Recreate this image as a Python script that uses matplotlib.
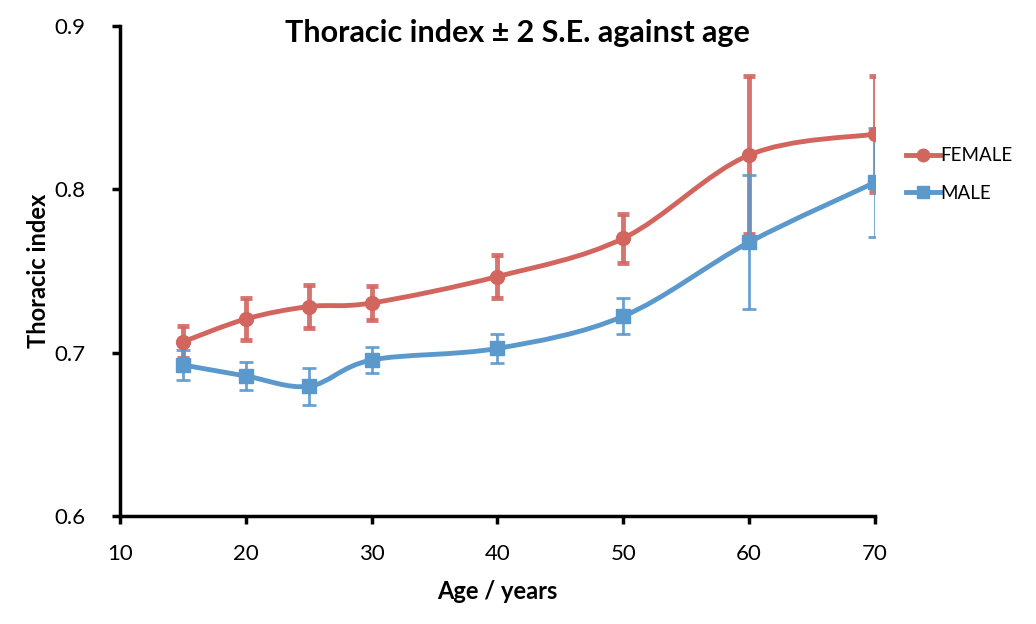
import numpy as np
import matplotlib.pyplot as plt
from matplotlib.path import Path
from matplotlib.patches import PathPatch
from matplotlib.lines import Line2D

# --- DATA ---
age = [15, 20, 25, 30, 40, 50, 60, 70]
female = [0.7066, 0.7206, 0.7282, 0.7304, 0.7466, 0.7700, 0.8210, 0.8338]
female_err = [0.0100, 0.0128, 0.0130, 0.0107, 0.0130, 0.0150, 0.0485, 0.0355]
male = [0.6925, 0.6857, 0.6794, 0.6955, 0.7026, 0.7223, 0.7676, 0.8042]
male_err = [0.0092, 0.0087, 0.0115, 0.0078, 0.0090, 0.0110, 0.0410, 0.0333]

C_F = '#D2665F'
C_M = '#5B98CC'

plt.rcParams['font.family'] = ['Lato', 'DejaVu Sans']


def smooth_path(x, y):
    # excel-like smoothed line: cubic bezier through the points
    x = np.asarray(x, float)
    y = np.asarray(y, float)
    verts = [(x[0], y[0])]
    codes = [Path.MOVETO]
    n = len(x)
    for i in range(n - 1):
        x0, y0 = (x[i - 1], y[i - 1]) if i > 0 else (x[i], y[i])
        x3, y3 = (x[i + 2], y[i + 2]) if i + 2 < n else (x[i + 1], y[i + 1])
        c1 = (x[i] + (x[i + 1] - x0) / 6, y[i] + (y[i + 1] - y0) / 6)
        c2 = (x[i + 1] - (x3 - x[i]) / 6, y[i + 1] - (y3 - y[i]) / 6)
        verts += [c1, c2, (x[i + 1], y[i + 1])]
        codes += [Path.CURVE4] * 3
    return Path(verts, codes)


fig = plt.figure(figsize=(10.36, 6.24), dpi=100)
ax = fig.add_axes([0.1158, 0.1731, 0.7288, 0.7853])

# error bars
ax.errorbar(age, female, yerr=female_err, fmt='none', ecolor=C_F, elinewidth=3.5,
            capsize=4, capthick=3.5, alpha=0.9, zorder=2)
ax.errorbar(age, male, yerr=male_err, fmt='none', ecolor=C_M, elinewidth=2,
            capsize=5, capthick=2, alpha=0.9, zorder=2)

# smoothed lines
ax.add_patch(PathPatch(smooth_path(age, female), facecolor='none', edgecolor=C_F,
                       lw=3.5, zorder=3))
ax.add_patch(PathPatch(smooth_path(age, male), facecolor='none', edgecolor=C_M,
                       lw=3.5, zorder=3))

ax.plot(age, female, 'o', color=C_F, ms=10, zorder=4)
ax.plot(age, male, 's', color=C_M, ms=10, zorder=4)

ax.set_xlim(10, 70)
ax.set_ylim(0.6, 0.9)
ax.set_xticks([10, 20, 30, 40, 50, 60, 70])
ax.set_yticks([0.6, 0.7, 0.8, 0.9])
ax.set_yticklabels(['0.6', '0.7', '0.8', '0.9'])

for s in ['top', 'right']:
    ax.spines[s].set_visible(False)
for s in ['left', 'bottom']:
    ax.spines[s].set_linewidth(2.5)
    ax.spines[s].set_color('black')
ax.tick_params(axis='both', direction='out', length=6, width=2.5, labelsize=16)
ax.tick_params(axis='y', pad=19)
ax.tick_params(axis='x', pad=14)

fig.text(0.499, 0.947, 'Thoracic index ± 2 S.E. against age', fontsize=22,
         fontweight='bold', ha='center', va='center')
ax.set_xlabel('Age / years', fontsize=17, fontweight='bold', labelpad=12)
ax.set_ylabel('Thoracic index', fontsize=17, fontweight='bold', labelpad=3)

handles = [Line2D([], [], color=C_F, lw=3.5, marker='o', ms=9),
           Line2D([], [], color=C_M, lw=3.5, marker='s', ms=9)]
fig.legend(handles, ['FEMALE', 'MALE'], loc='center left', bbox_to_anchor=(0.858, 0.72),
           frameon=False, fontsize=13.5, handlelength=1.8, handletextpad=0.05,
           labelspacing=1.1)

plt.savefig('out.png', dpi=100)
